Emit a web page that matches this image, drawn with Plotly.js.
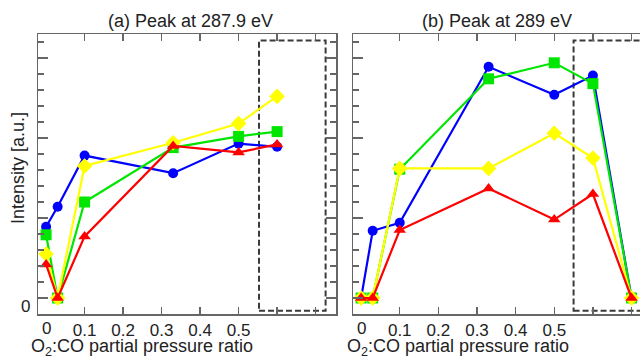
<!DOCTYPE html>
<html><head><meta charset="utf-8">
<script src="https://cdn.plot.ly/plotly-3.0.1.min.js"></script>
<style>html,body{margin:0;padding:0;overflow:hidden;background:#fff}#chart{width:660px;height:359px}</style>
</head><body><div id="chart"></div>
<script>
// ---- data ----
const ratiosA = [0, 0.03, 0.1, 0.33, 0.5, 0.6];
const ratiosB = [0, 0.03, 0.1, 0.33, 0.5, 0.6, 0.7];

const blueA   = [4.45, 5.7, 8.9, 7.8, 9.65, 9.45];
const greenA  = [3.95, 0, 6.0, 9.4, 10.1, 10.4];
const yellowA = [2.75, 0, 8.25, 9.7, 10.9, 12.6];
const redA    = [2.1, 0, 3.85, 9.5, 9.1, 9.6];

const blueB   = [0, 4.2, 4.7, 14.45, 12.7, 13.9, 0];
const greenB  = [0, 0, 8.05, 13.7, 14.7, 13.4, 0];
const yellowB = [0, 0, 8.1, 8.1, 10.3, 8.75, 0];
const redB    = [0, 0, 4.25, 6.85, 4.9, 6.5, 0];

const xTickVals = [0.1, 0.2, 0.3, 0.4, 0.5, 0.6, 0.7];
const xTickText = ['0.1', '0.2', '0.3', '0.4', '0.5', ' ', ' '];
const zeroLabel = '0';
const panelTitles = ['(a) Peak at 287.9 eV', '(b) Peak at 289 eV'];
const xTitle = 'O<sub>2</sub>:CO partial pressure ratio';
const yTitle = 'Intensity [a.u.]';
// highlighted region (dashed box) in data units
const boxA = {x0: 0.553, x1: 0.726, y0: -0.8, y1: 16.1};
const boxB = {x0: 0.55, x1: 0.728, y0: -0.8, y1: 16.1};

// ---- styles ----
const FONT = 'Liberation Sans, Arial, sans-serif';
const styles = [
  {color: '#0000ff', symbol: 'circle', size: 10},
  {color: '#00e600', symbol: 'square', size: 11},
  {color: '#ffff00', symbol: 'diamond', size: 12},
  {color: '#ff0000', symbol: 'triangle-up', size: 11}
];
const seriesA = [blueA, greenA, yellowA, redA];
const seriesB = [blueB, greenB, yellowB, redB];

const traces = [];
seriesA.forEach((ys, i) => traces.push({
  x: ratiosA, y: ys, xaxis: 'x', yaxis: 'y', type: 'scatter', mode: 'lines+markers',
  line: {color: styles[i].color, width: 2.2},
  marker: {color: styles[i].color, symbol: styles[i].symbol, size: styles[i].size}
}));
seriesB.forEach((ys, i) => traces.push({
  x: ratiosB, y: ys, xaxis: 'x2', yaxis: 'y2', type: 'scatter', mode: 'lines+markers',
  line: {color: styles[i].color, width: 2.2},
  marker: {color: styles[i].color, symbol: styles[i].symbol, size: styles[i].size}
}));

const W = 660, H = 359;
const axisColor = '#666';
function xAxis(dom) {
  return {
    domain: dom, range: [-0.021, 0.753], showgrid: false, zeroline: false,
    showline: true, linecolor: axisColor, linewidth: 1.5, mirror: 'ticks',
    ticks: 'inside', ticklen: 7, tickcolor: axisColor, tickwidth: 1.5,
    tickmode: 'array', tickvals: xTickVals, ticktext: xTickText,
    tickfont: {family: FONT, size: 17, color: '#222'}
  };
}
function yAxis(anchor) {
  return {
    domain: [(H - 314) / H, (H - 34) / H], range: [-1, 16.5], anchor: anchor,
    showgrid: false, zeroline: false, showline: true, linecolor: axisColor, linewidth: 1.5,
    mirror: 'ticks', ticks: 'inside', ticklen: 10, tickcolor: axisColor, tickwidth: 1.5,
    tickmode: 'linear', tick0: 0, dtick: 5, showticklabels: false,
    minor: {tickmode: 'linear', tick0: 0, dtick: 1, ticks: 'inside', ticklen: 6, tickcolor: axisColor, tickwidth: 1.5, showgrid: false}
  };
}

const xa = xAxis([38 / W, 336 / W]); xa.anchor = 'y';
const xb = xAxis([353 / W, 652 / W]); xb.anchor = 'y2';

const dashLine = {color: '#3a3a3a', width: 2, dash: '6px,3px'};
const layout = {
  width: W, height: H, margin: {l: 0, r: 0, t: 0, b: 0},
  paper_bgcolor: '#fff', plot_bgcolor: '#fff', showlegend: false,
  font: {family: FONT, color: '#222'},
  xaxis: xa, yaxis: yAxis('x'), xaxis2: xb, yaxis2: yAxis('x2'),
  shapes: [
    Object.assign({type: 'rect', xref: 'x', yref: 'y', line: dashLine, layer: 'below'}, boxA),
    Object.assign({type: 'rect', xref: 'x2', yref: 'y2', line: dashLine, layer: 'below'}, boxB)
  ],
  annotations: [
    {text: panelTitles[0], xref: 'paper', yref: 'paper', x: 190 / W, y: (H - 21) / H, xanchor: 'center', yanchor: 'middle', showarrow: false, font: {family: FONT, size: 18, color: '#222'}},
    {text: panelTitles[1], xref: 'paper', yref: 'paper', x: 497 / W, y: (H - 21) / H, xanchor: 'center', yanchor: 'middle', showarrow: false, font: {family: FONT, size: 18, color: '#222'}},
    {text: xTitle, xref: 'x', yref: 'paper', x: 0.25, y: (H - 347) / H, xanchor: 'center', yanchor: 'middle', showarrow: false, font: {family: FONT, size: 18, color: '#222'}},
    {text: xTitle, xref: 'x2', yref: 'paper', x: 0.25, y: (H - 347) / H, xanchor: 'center', yanchor: 'middle', showarrow: false, font: {family: FONT, size: 18, color: '#222'}},
    {text: yTitle, xref: 'paper', yref: 'paper', x: 18 / W, y: (H - 168) / H, xanchor: 'center', yanchor: 'middle', textangle: -90, showarrow: false, font: {family: FONT, size: 18, color: '#222'}},
    {text: zeroLabel, xref: 'paper', yref: 'paper', x: 26 / W, y: (H - 306) / H, xanchor: 'center', yanchor: 'middle', showarrow: false, font: {family: FONT, size: 17, color: '#222'}},
    {text: zeroLabel, xref: 'x', yref: 'paper', x: 0, y: (H - 328) / H, xanchor: 'center', yanchor: 'middle', showarrow: false, font: {family: FONT, size: 17, color: '#222'}},
    {text: zeroLabel, xref: 'x2', yref: 'paper', x: 0, y: (H - 328) / H, xanchor: 'center', yanchor: 'middle', showarrow: false, font: {family: FONT, size: 17, color: '#222'}}
  ]
};

Plotly.newPlot('chart', traces, layout, {staticPlot: true, displayModeBar: false});
</script>
</body></html>
